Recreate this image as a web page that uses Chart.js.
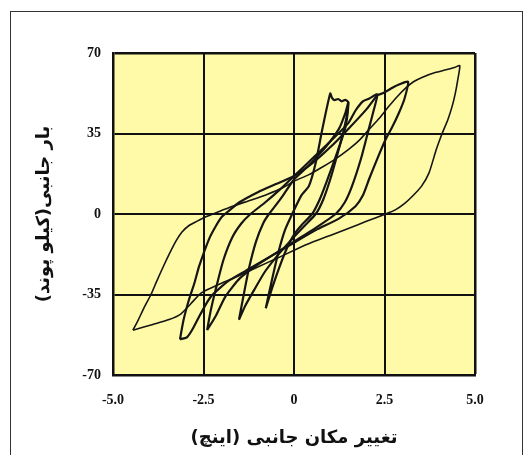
<!DOCTYPE html>
<html>
<head>
<meta charset="utf-8">
<script src="https://cdn.jsdelivr.net/npm/chart.js@4"></script>
<style>
html, body { margin: 0; padding: 0; background: #fff; }
#wrap { position: relative; width: 529px; height: 455px; overflow: hidden; }
#frame { position: absolute; left: 10px; top: 11px; width: 511px; height: 460px; border: 1.5px solid #333; }
canvas { position: absolute; left: 0; top: 0; }
</style>
</head>
<body>
<div id="wrap">
  <div id="frame"></div>
  <canvas id="curvaHisteresis" width="529" height="455"></canvas>
</div>
<script>
// Valores de ejes
const xTickValues = [-5, -2.5, 0, 2.5, 5];
const xTickLabels = ['-5.0', '-2.5', '0', '2.5', '5.0'];
const yTickValues = [-70, -35, 0, 35, 70];
const yTickLabels = ['-70', '-35', '0', '35', '70'];
const xTitle = 'تغییر مکان جانبی (اینچ)';
const yTitle = 'بار جانبی(کیلو پوند)';

// Ciclos de histéresis [desplazamiento, carga]
const ciclo1 = [[-0.78,-41],[-0.6,-28],[-0.42,-16],[-0.25,-7],[-0.05,0],[0.2,8],[0.41,12.1],[0.6,22.3],[0.78,36.7],[1.0,52.4],
  [1.05,50.5],[1.12,49.5],[1.22,50],[1.32,49],[1.42,49.6],[1.5,48.5],
  [1.43,38.2],[1.33,33],[1.13,24],[0.9,14],[0.7,6],[0.5,0],[0.2,-5],[0,-9],[-0.2,-15],[-0.4,-23],[-0.6,-32],[-0.78,-41]];
const ciclo2 = [[-1.52,-46],[-1.4,-36],[-1.25,-24],[-1.05,-12],[-0.85,-4],[-0.69,0],[-0.35,7],[0,15],[0.4,21],[0.87,29],[1.24,37],[1.42,44],[1.5,48.5],
  [1.45,42],[1.35,35],[1.2,26],[1.0,15],[0.8,6],[0.6,0],[0.3,-5],[0,-10],[-0.4,-17],[-0.8,-25],[-1.1,-33],[-1.35,-40],[-1.52,-46]];
const ciclo3 = [[-2.4,-50.5],[-2.3,-42],[-2.15,-32],[-1.95,-20],[-1.7,-10],[-1.45,-4],[-1.2,0],[-0.8,5],[-0.4,10.5],[0,16.5],[0.5,24],[1.0,31.5],[1.5,39.5],[1.7,45],[1.9,49],[2.07,50.1],[2.3,52],
  [2.2,45],[2.05,36],[1.85,24],[1.6,12],[1.4,5],[1.15,0],[0.6,-6],[0,-12],[-0.5,-17],[-1.0,-22],[-1.5,-28],[-1.9,-36],[-2.15,-44],[-2.4,-50.5]];
const ciclo4 = [[-3.15,-54.5],[-3.05,-46],[-2.9,-37.2],[-2.75,-30],[-2.62,-22.7],[-2.35,-11],[-2.15,-5],[-1.98,-1],[-1.75,2],[-1.52,5],[-1.0,9.5],[-0.5,13],[0,16.5],[0.5,22],[1.0,29],[1.5,37],[2.0,45.5],[2.3,51.5],[2.45,52.5],[2.58,53.6],[2.72,54.9],[2.9,56.3],[3.15,57.5],
  [3.05,50],[2.9,44],[2.72,38],[2.53,32.4],[2.3,24],[2.07,15],[1.9,8],[1.7,3.4],[1.24,-2],[0.6,-7],[0,-12.5],[-0.6,-18],[-1.2,-23.5],[-1.8,-29],[-2.3,-36],[-2.6,-44],[-2.8,-50],[-2.95,-53.5],[-3.15,-54.5]];
const ciclo5 = [[-4.45,-50.5],[-4.3,-46],[-4.15,-41],[-3.95,-35],[-3.8,-29.5],[-3.6,-22.5],[-3.42,-16.6],[-3.25,-11.5],[-3.1,-7.9],[-2.9,-5],[-2.7,-3.3],[-2.4,-1],[-2.0,1.5],[-1.66,3.6],[-1.2,6],[-0.73,8.6],[-0.3,11.5],[0.02,14.4],[0.4,17],[0.76,20.2],[1.15,24],[1.51,28.1],[1.8,32],[2.07,36.7],[2.35,41.5],[2.62,46.8],[2.85,51],[3.09,54.8],[3.3,57.5],[3.55,59.5],[3.9,61.5],[4.2,62.7],[4.45,63.8],[4.58,64.5],
  [4.52,58],[4.45,52],[4.37,46.9],[4.25,41],[4.1,35.3],[3.93,28],[3.73,17.9],[3.52,12],[3.27,7.7],[3.05,4.5],[2.81,1.9],[2.53,0],[2.0,-3.2],[1.5,-6.3],[1.0,-9.3],[0.5,-12.3],[0.05,-15.4],[-0.5,-19.5],[-1.0,-23],[-1.66,-27.8],[-2.1,-30.8],[-2.56,-34.3],[-2.85,-39],[-3.13,-43.5],[-3.45,-45.9],[-3.9,-48],[-4.45,-50.5]];

const colorLinea = '#151515';
const fuenteTicks = { family: 'Liberation Serif', size: 14, weight: 'bold' };
const fuenteTitulo = { family: 'DejaVu Sans', size: 18, weight: 'bold' };

// Fondo amarillo del área de trazado
const fondoAmarillo = {
  id: 'fondoAmarillo',
  beforeDraw(chart) {
    const { ctx, chartArea: a } = chart;
    ctx.save();
    ctx.fillStyle = '#fffaa8';
    ctx.fillRect(a.left, a.top, a.right - a.left, a.bottom - a.top);
    ctx.restore();
  }
};

function serie(puntos, ancho) {
  return {
    data: puntos.map(p => ({ x: p[0], y: p[1] })),
    showLine: true,
    borderColor: colorLinea,
    borderWidth: ancho,
    pointRadius: 0,
    tension: 0.2,
    fill: false
  };
}

const ctx = document.getElementById('curvaHisteresis').getContext('2d');
new Chart(ctx, {
  type: 'scatter',
  data: {
    datasets: [serie(ciclo1, 2.2), serie(ciclo2, 2.2), serie(ciclo3, 2.2), serie(ciclo4, 2.2), serie(ciclo5, 1.6)]
  },
  options: {
    responsive: false,
    animation: false,
    layout: { padding: { top: 53, right: 54, left: 0, bottom: 0 } },
    plugins: { legend: { display: false }, tooltip: { enabled: false } },
    scales: {
      x: {
        type: 'linear',
        min: -5,
        max: 5,
        afterBuildTicks: s => { s.ticks = xTickValues.map(v => ({ value: v })); },
        afterFit: s => { s.height = 80; },
        ticks: {
          padding: 17,
          color: '#111',
          font: fuenteTicks,
          callback: v => xTickLabels[xTickValues.indexOf(v)]
        },
        grid: {
          color: '#111',
          lineWidth: c => (c.index === 4 ? 2.5 : 2),
          drawTicks: false
        },
        border: { color: '#111', width: 2.5 },
        title: { display: true, text: xTitle, color: '#111', font: fuenteTitulo, padding: { top: 0, bottom: 6 } }
      },
      y: {
        type: 'linear',
        min: -70,
        max: 70,
        afterBuildTicks: s => { s.ticks = yTickValues.map(v => ({ value: v })); },
        afterFit: s => { s.width = 113; },
        ticks: {
          padding: 12,
          color: '#111',
          font: fuenteTicks,
          callback: v => yTickLabels[yTickValues.indexOf(v)]
        },
        grid: {
          color: '#111',
          lineWidth: c => (c.index === 4 ? 2.5 : 2),
          drawTicks: false
        },
        border: { color: '#111', width: 2.5 },
        title: { display: true, text: yTitle, color: '#111', font: fuenteTitulo, padding: { top: 34, bottom: 0 } }
      }
    }
  },
  plugins: [fondoAmarillo]
});
</script>
</body>
</html>
